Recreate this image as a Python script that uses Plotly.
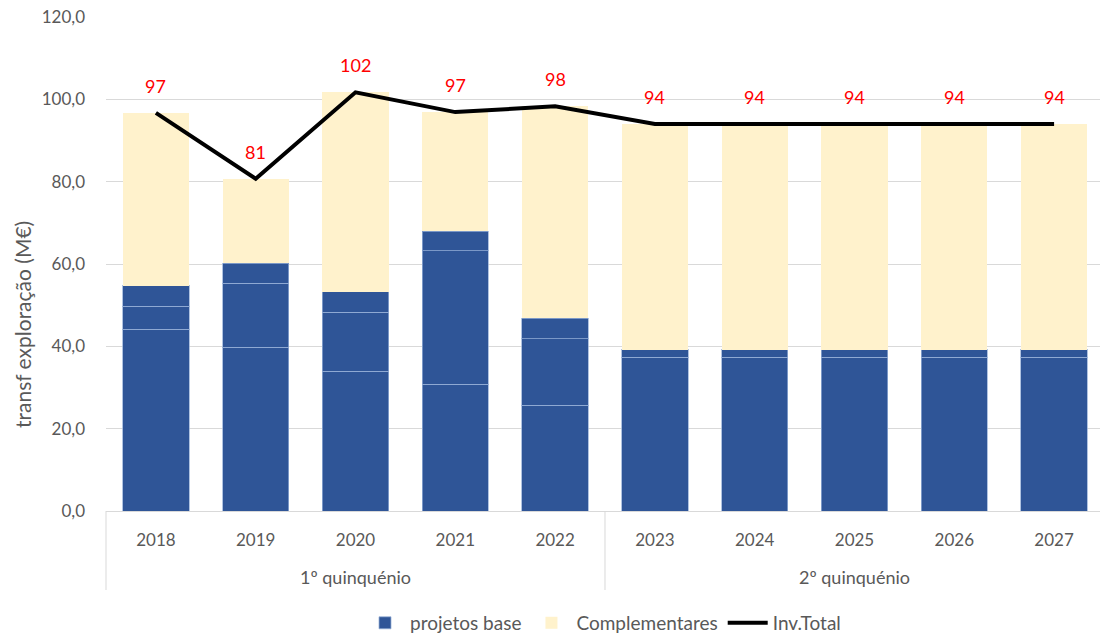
import plotly.graph_objects as go

# Years and their five-year period grouping
years = ["2018", "2019", "2020", "2021", "2022", "2023", "2024", "2025", "2026", "2027"]
periods = ["1º quinquénio", "2º quinquénio"]
period_centers = ["2020", "2025"]

# "projetos base" is stacked from three components (M€)
base_a = [44.1, 39.8, 34.0, 30.8, 25.7, 37.3, 37.3, 37.3, 37.3, 37.3]
base_b = [5.6, 15.5, 14.3, 32.4, 16.2, 1.9, 1.9, 1.9, 1.9, 1.9]
base_c = [5.0, 4.9, 4.9, 4.8, 4.9, 0.0, 0.0, 0.0, 0.0, 0.0]

# Complementary projects (M€)
complementares = [42.0, 20.5, 48.5, 28.9, 51.5, 54.8, 54.8, 54.8, 54.8, 54.8]

# Total investment (M€)
inv_total = [96.7, 80.7, 101.7, 96.9, 98.3, 94.0, 94.0, 94.0, 94.0, 94.0]

BLUE = "#2F5597"
CREAM = "#FFF2CC"
GREY_TXT = "#595959"
GRID = "#D9D9D9"
FONT = "Lato"

fig = go.Figure()

for i, seg in enumerate([base_a, base_b, base_c]):
    fig.add_trace(go.Bar(
        x=years, y=seg, name="projetos base",
        legendgroup="base", showlegend=(i == 0),
        marker=dict(color=BLUE, line=dict(color="rgba(150,175,215,0.75)", width=1)),
    ))

fig.add_trace(go.Bar(
    x=years, y=complementares, name="Complementares",
    marker=dict(color=CREAM, line=dict(width=0)),
))

fig.add_trace(go.Scatter(
    x=years, y=inv_total, name="Inv.Total", mode="lines",
    line=dict(color="black", width=4),
))

# On a category axis, annotations are positioned by category index
annotations = []
for idx, v in enumerate(inv_total):
    annotations.append(dict(
        x=idx, y=v, xref="x", yref="y", text=f"{v:.0f}", showarrow=False,
        yshift=27, font=dict(family=FONT, size=18, color="#FF0000"),
    ))

# Period labels under the year ticks
for name, c in zip(periods, period_centers):
    annotations.append(dict(
        x=years.index(c), y=-0.1336, xref="x", yref="paper", text=name,
        showarrow=False, yanchor="middle",
        font=dict(family=FONT, size=18, color=GREY_TXT),
    ))

# Y axis title
annotations.append(dict(
    x=-0.0845, y=0.3765, xref="paper", yref="paper",
    text="transf exploração (M€)", textangle=-90, showarrow=False,
    xanchor="center", yanchor="middle",
    font=dict(family=FONT, size=21, color=GREY_TXT),
))

x_range = [-0.5, 9.46]

def to_paper(idx):
    return (idx - x_range[0]) / (x_range[1] - x_range[0])

# Dividers separating the two periods on the category axis
shapes = []
for idx in [-0.5, 4.5]:
    px = to_paper(idx)
    shapes.append(dict(
        type="line", xref="paper", yref="paper",
        x0=px, x1=px, y0=0, y1=-0.16,
        line=dict(color=GRID, width=1),
    ))

fig.update_layout(
    width=1100, height=635,
    margin=dict(l=106, r=0, t=17, b=124, autoexpand=False),
    barmode="stack", bargap=0.335,
    plot_bgcolor="white", paper_bgcolor="white",
    separators=",.",
    font=dict(family=FONT, size=17, color=GREY_TXT),
    xaxis=dict(
        type="category", range=x_range, showgrid=False,
        showline=True, linecolor=GRID, linewidth=1,
        ticks="", ticklabelstandoff=14,
        tickfont=dict(family=FONT, size=17, color=GREY_TXT),
    ),
    yaxis=dict(
        range=[0, 120], dtick=20, tickformat=".1f",
        showgrid=True, gridcolor=GRID, gridwidth=1,
        zeroline=False, showline=False, ticks="",
        ticklabelstandoff=20,
        tickfont=dict(family=FONT, size=17, color=GREY_TXT),
    ),
    legend=dict(
        orientation="h", x=0.5, xanchor="center",
        yref="container", y=0.019, yanchor="middle",
        font=dict(family=FONT, size=19, color=GREY_TXT),
        traceorder="normal", itemwidth=40,
    ),
    annotations=annotations,
    shapes=shapes,
)

fig.write_html("out.html")
